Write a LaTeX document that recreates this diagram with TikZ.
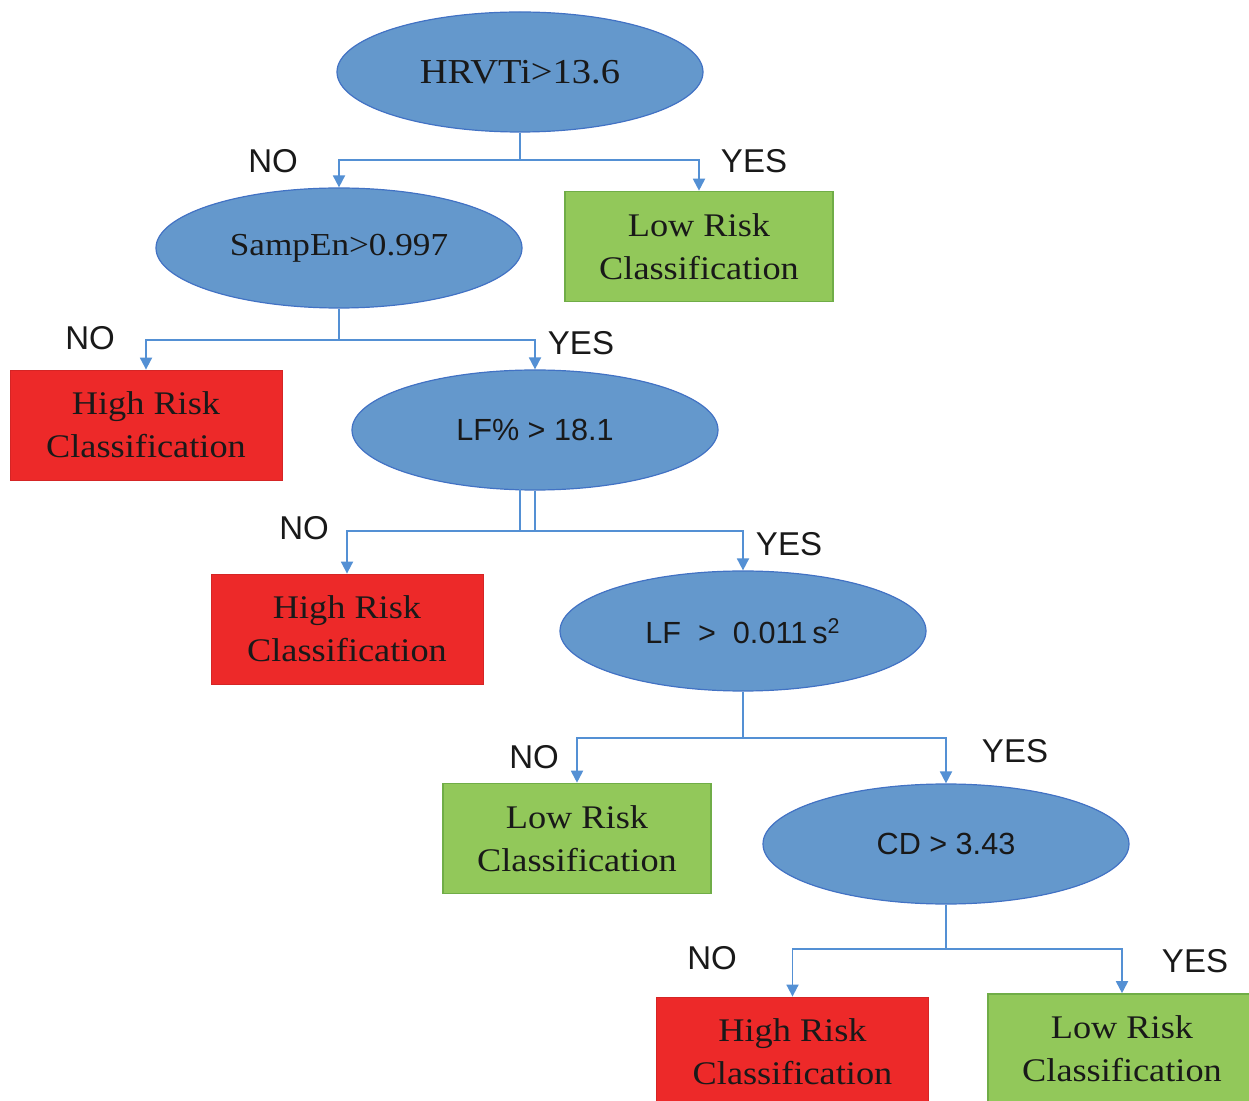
\documentclass[tikz,border=0pt]{standalone}
\usepackage{fontspec}
\setmainfont{Liberation Serif}[FakeStretch=1.1]
\setsansfont{Liberation Sans}
\usetikzlibrary{shapes.geometric,arrows.meta}
\definecolor{ellfill}{RGB}{100,152,204}
\definecolor{elldraw}{RGB}{66,114,196}
\definecolor{conncol}{RGB}{84,144,212}
\definecolor{redfill}{RGB}{237,41,41}
\definecolor{greenfill}{RGB}{146,200,90}
\definecolor{greendraw}{RGB}{112,173,71}
\definecolor{txt}{RGB}{25,25,25}
\tikzset{
  decision/.style={ellipse, fill=ellfill, draw=elldraw, line width=0.6pt,
    minimum width=183pt, minimum height=60pt, inner sep=0pt, text=txt},
  serifbig/.style={font=\fontsize{17.5}{21}\selectfont},
  serifmid/.style={font=\fontsize{16}{20}\selectfont},
  sansmid/.style={font=\sffamily\fontsize{15.3}{17}\selectfont},
  highbox/.style={rectangle, fill=redfill, draw=redfill!90!black, line width=0.4pt,
    minimum width=136pt, minimum height=55pt, inner sep=0pt, align=center, text=txt,
    font=\fontsize{16.5}{21.5}\selectfont},
  lowbox/.style={rectangle, fill=greenfill, draw=greendraw, line width=0.8pt,
    minimum width=134pt, minimum height=55pt, inner sep=0pt, align=center, text=txt,
    font=\fontsize{16.5}{21.5}\selectfont},
  conn/.style={draw=conncol, line width=0.9pt, -{Triangle[length=6pt,width=6pt]}},
  plainconn/.style={draw=conncol, line width=0.9pt},
  answer/.style={font=\sffamily\fontsize{16.5}{20}\selectfont, text=txt, inner sep=0pt}
}
\begin{document}
\begin{tikzpicture}[x=0.5pt,y=-0.5pt]
\useasboundingbox (0,0) rectangle (1249,1101);
\fill[white] (0,0) rectangle (1249,1101);
% decisions
\node[decision, serifbig] (hrv) at (520,72) {HRVTi>13.6};
\node[decision, serifmid] (samp) at (339,248) {SampEn>0.997};
\node[decision, sansmid] (lfp) at (535,430) {LF\% > 18.1};
\node[decision, sansmid] (lf) at (743,631) {LF~~>~~0.011\,s\textsuperscript{2}};
\node[decision, sansmid] (cd) at (946,844) {CD > 3.43};
% leaves
\node[lowbox] (low1) at (699,246.5) {Low Risk\\Classification};
\node[highbox] (high1) at (146,425) {High Risk\\Classification};
\node[highbox] (high2) at (347,629) {High Risk\\Classification};
\node[lowbox] (low2) at (577,838.5) {Low Risk\\Classification};
\node[highbox] (high3) at (792.5,1052) {High Risk\\Classification};
\node[lowbox] (low3) at (1122,1049) {Low Risk\\Classification};
% junctions
\coordinate (j1) at (520,160);
\coordinate (j2) at (339,340);
\coordinate (j3) at (535,531);
\coordinate (j3b) at (520,531);
\coordinate (j3t) at (520,489);
\coordinate (j4) at (743,738);
\coordinate (j5) at (946,949);
% connectors
\draw[plainconn] (hrv.south) -- (j1);
\draw[conn] (j1) -| (samp.north);
\draw[conn] (j1) -| (low1.north);
\draw[plainconn] (samp.south) -- (j2);
\draw[conn] (j2) -| (high1.north);
\draw[conn] (j2) -| (lfp.north);
\draw[plainconn] (lfp.south) -- (j3);
\draw[plainconn] (j3t) -- (j3b);
\draw[conn] (j3) -| (high2.north);
\draw[conn] (j3) -| (lf.north);
\draw[plainconn] (lf.south) -- (j4);
\draw[conn] (j4) -| (low2.north);
\draw[conn] (j4) -| (cd.north);
\draw[plainconn] (cd.south) -- (j5);
\draw[conn] (j5) -| (high3.north);
\draw[conn] (j5) -| (low3.north);
% labels
\node[answer] (n1) at (273,161) {NO};
\node[answer] (y1) at (754,161) {YES};
\node[answer] (n2) at (90,338) {NO};
\node[answer] (y2) at (581,343) {YES};
\node[answer] (n3) at (304,528) {NO};
\node[answer] (y3) at (789,544) {YES};
\node[answer] (n4) at (534,757) {NO};
\node[answer] (y4) at (1015,751) {YES};
\node[answer] (n5) at (712,958) {NO};
\node[answer] (y5) at (1195,961) {YES};
\end{tikzpicture}
\end{document}
